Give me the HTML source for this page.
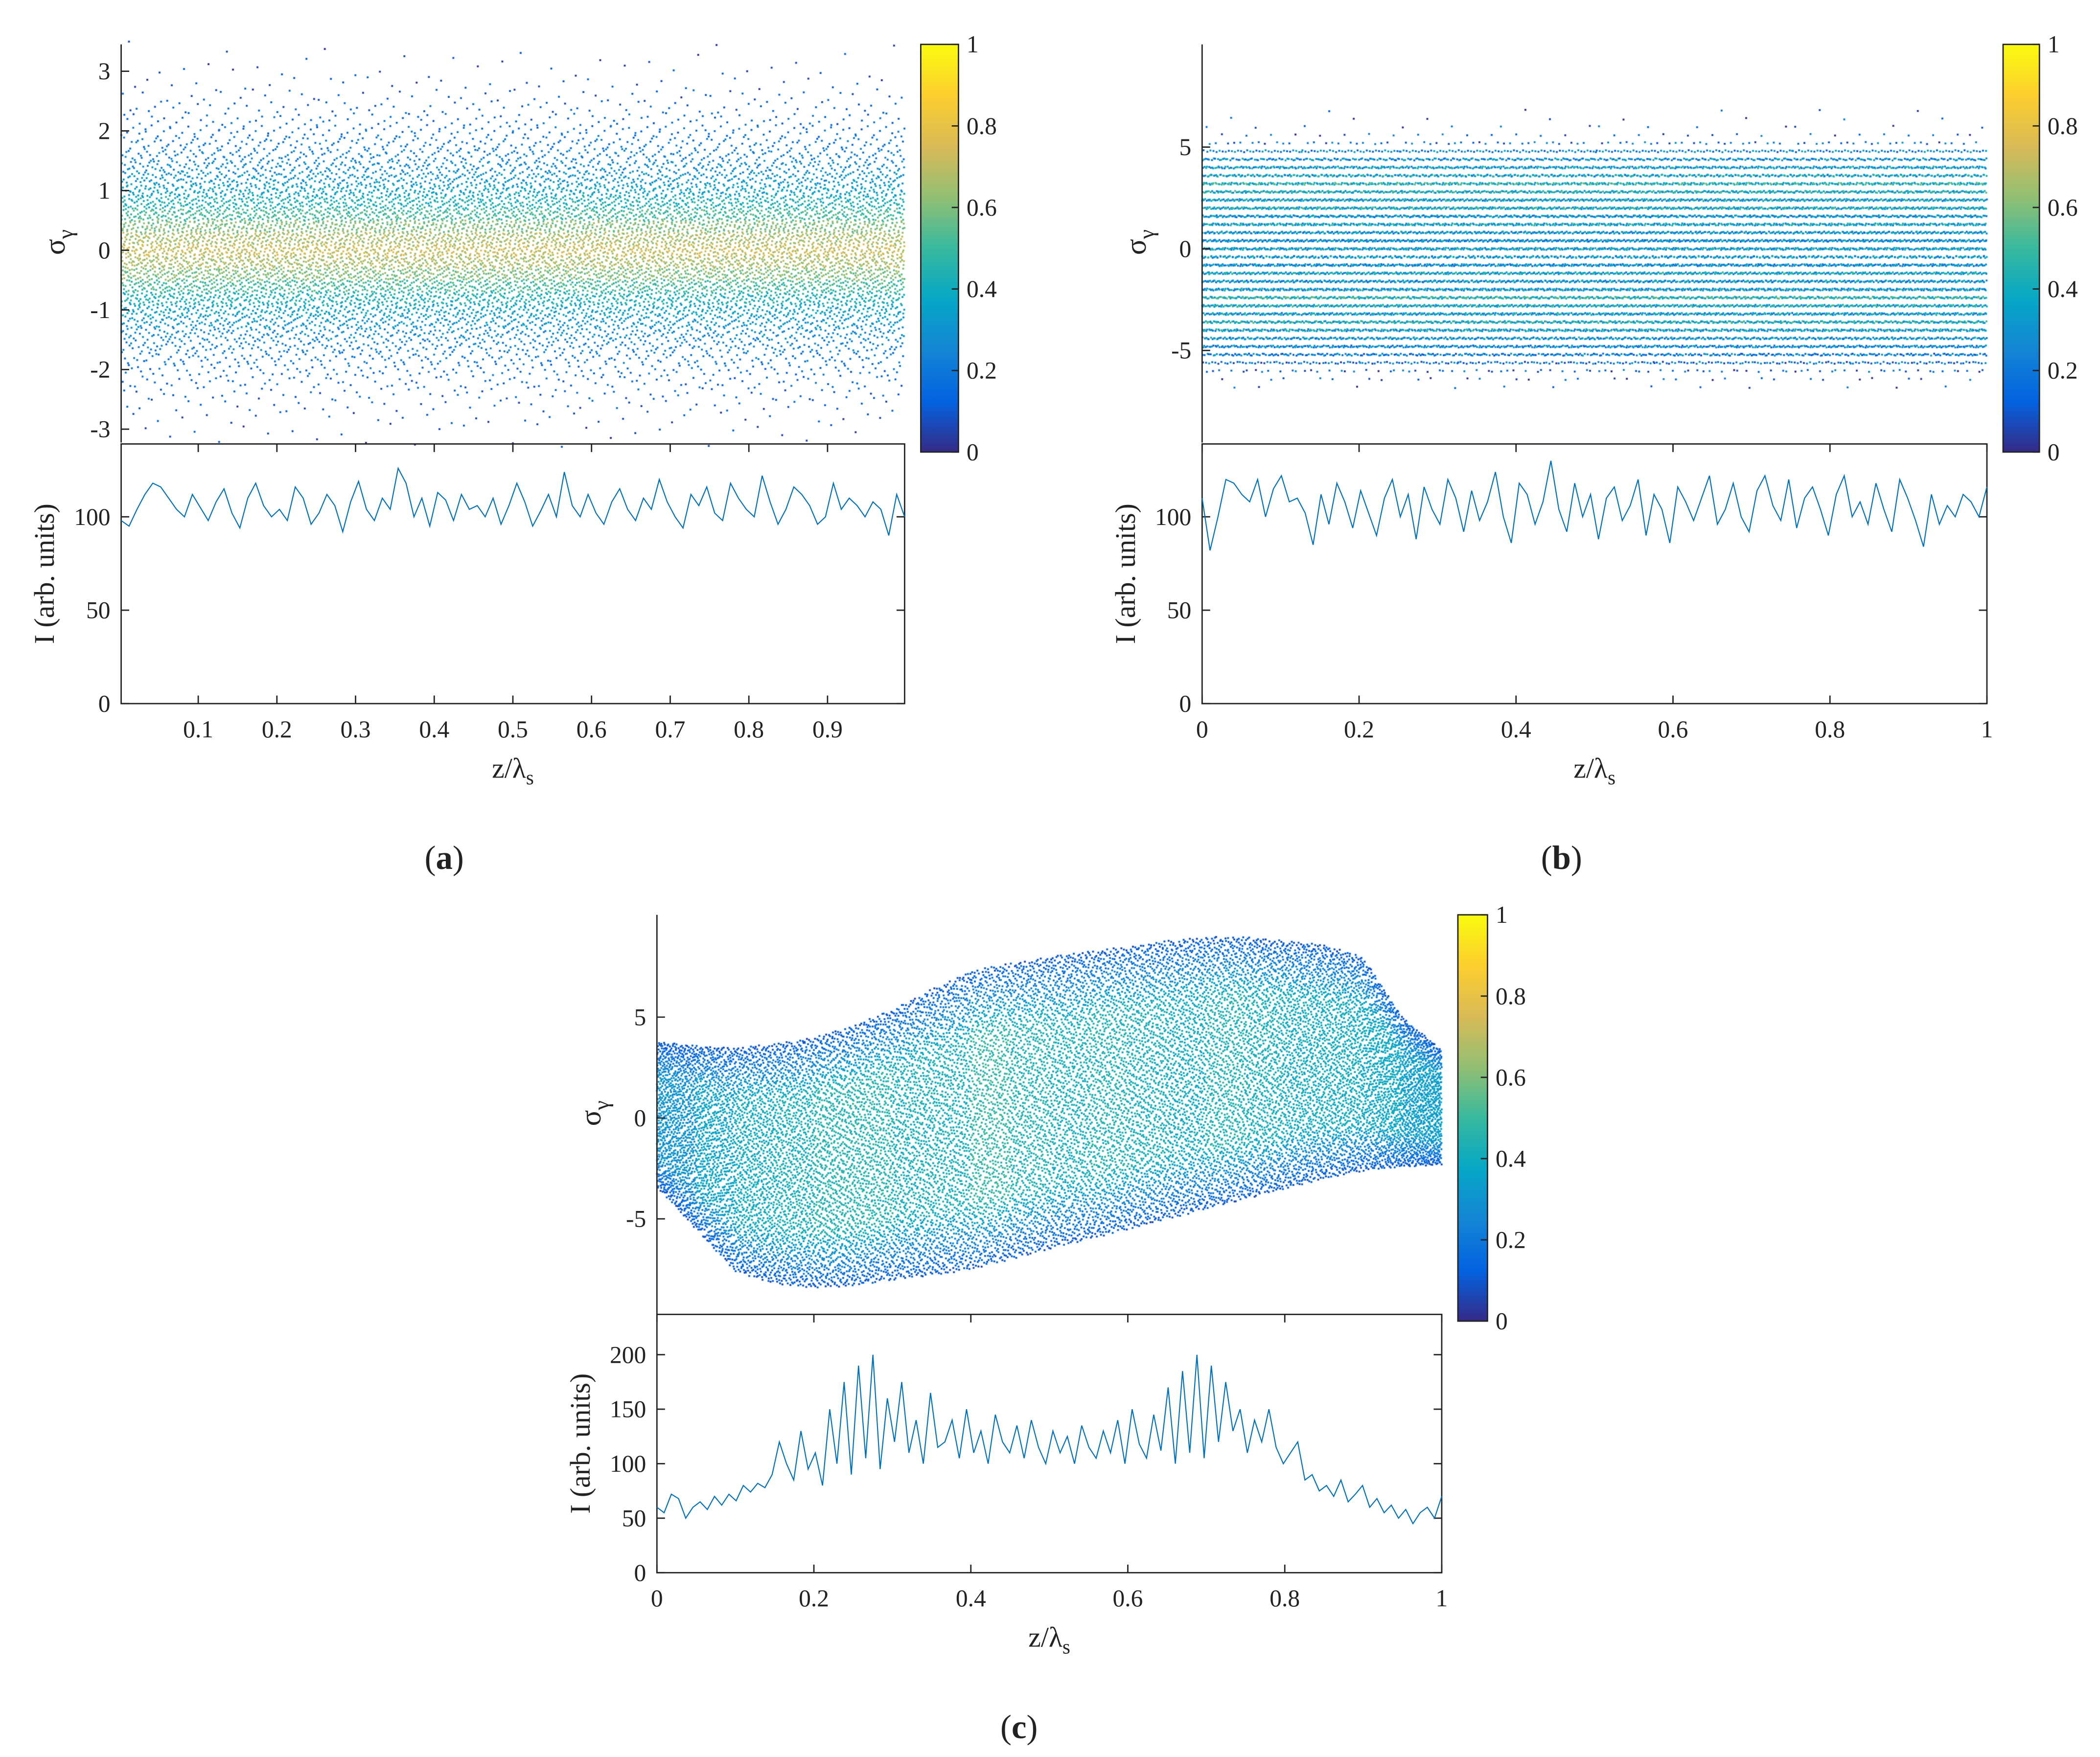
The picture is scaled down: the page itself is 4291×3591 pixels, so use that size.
<!DOCTYPE html>
<html><head><meta charset="utf-8">
<style>
html,body{margin:0;padding:0;background:#fff;}
#wrap{position:relative;width:4291px;height:3591px;overflow:hidden;}
#cv{position:absolute;left:0;top:0;}
#svg{position:absolute;left:0;top:0;}
text{font-family:"Liberation Serif",serif;fill:#222;}
</style></head>
<body>
<div id="wrap">
<canvas id="cv" width="4291" height="3591"></canvas>
<svg id="svg" width="4291" height="3591" viewBox="0 0 1560 1306" preserveAspectRatio="none">
<defs>
<linearGradient id="parula" x1="0" y1="1" x2="0" y2="0">
<stop offset="0" stop-color="#352a87"/><stop offset="0.125" stop-color="#0363e1"/>
<stop offset="0.25" stop-color="#1485d4"/><stop offset="0.375" stop-color="#06a7c6"/>
<stop offset="0.5" stop-color="#38b99e"/><stop offset="0.625" stop-color="#92bf73"/>
<stop offset="0.75" stop-color="#d9ba56"/><stop offset="0.875" stop-color="#fcce2e"/>
<stop offset="1" stop-color="#f9fb0e"/>
</linearGradient>
</defs>
<g id="g"></g>
</svg>
</div>
<script>
// ---------- DATA ----------
const aRowSigma = [-3.2,-3.0,-2.8,-2.6,-2.4,-2.2,-2.0,-1.8,-1.6,-1.4,-1.2,-1.0,-0.8,-0.6,-0.4,-0.2,0.0,0.2,0.4,0.6,0.8,1.0,1.2,1.4,1.6,1.8,2.0,2.2,2.4,2.6,2.8,3.0,3.2,3.4];
const aRowCount = [10,18,30,50,75,110,160,230,320,420,520,620,720,800,860,900,920,900,860,800,720,620,520,420,320,230,160,110,75,50,30,18,10,6];
const aRowColor = [0.06,0.07,0.09,0.11,0.13,0.15,0.17,0.2,0.23,0.27,0.31,0.36,0.43,0.51,0.6,0.67,0.72,0.67,0.6,0.51,0.43,0.36,0.31,0.27,0.23,0.2,0.17,0.15,0.13,0.11,0.09,0.07,0.06,0.05];
const bLevelSigma = [-6.8,-6.4,-6.0,-5.6,-5.2,-4.8,-4.4,-4.0,-3.6,-3.2,-2.8,-2.4,-2.0,-1.6,-1.2,-0.8,-0.4,0.0,0.4,0.8,1.2,1.6,2.0,2.4,2.8,3.2,3.6,4.0,4.4,4.8,5.2,5.6,6.0,6.4,6.8];
const bLevelCount = [12,30,90,260,420,520,580,600,620,620,630,640,640,630,620,620,630,640,640,630,620,620,630,620,610,600,580,520,420,260,90,30,14,8,5];
const bLevelColor = [0.08,0.1,0.14,0.18,0.22,0.26,0.3,0.34,0.4,0.33,0.38,0.44,0.32,0.3,0.36,0.28,0.32,0.34,0.28,0.31,0.36,0.3,0.38,0.34,0.4,0.43,0.36,0.33,0.28,0.24,0.18,0.14,0.11,0.09,0.08];
const cColX = [0,0.05,0.1,0.15,0.2,0.25,0.3,0.35,0.4,0.45,0.5,0.55,0.6,0.65,0.7,0.75,0.8,0.85,0.9,0.95,1.0];
const cColTop = [3.8,3.6,3.5,3.7,4.0,4.6,5.4,6.4,7.3,7.7,8.0,8.3,8.5,8.8,9.0,9.0,8.8,8.6,8.0,5.0,3.4];
const cColBottom = [-3.4,-5.5,-7.6,-8.2,-8.4,-8.3,-8.0,-7.8,-7.5,-7.0,-6.5,-6.0,-5.5,-5.0,-4.5,-4.0,-3.5,-3.0,-2.6,-2.4,-2.3];
const cColColor = [0.3,0.36,0.4,0.42,0.45,0.45,0.42,0.42,0.48,0.44,0.42,0.44,0.42,0.4,0.44,0.42,0.4,0.4,0.38,0.34,0.28];
const aI = [98,95,104,112,118,116,110,104,100,112,105,98,108,115,102,94,110,118,106,100,104,98,116,110,96,102,112,106,92,108,119,104,98,110,104,126,118,100,110,95,113,109,98,112,104,106,100,110,96,106,118,108,95,103,112,100,124,106,100,112,102,96,108,115,104,98,110,104,120,108,100,94,112,106,116,102,98,118,110,104,100,122,108,96,104,116,112,106,96,100,118,104,110,106,100,108,104,90,112,100];
const bI = [110,82,100,120,118,112,108,120,100,115,122,108,110,102,85,112,96,118,108,94,114,102,90,110,120,100,112,88,116,104,96,120,110,92,114,98,108,124,100,86,118,112,96,108,130,104,92,118,100,112,88,110,116,98,106,120,90,112,104,86,116,108,98,110,122,96,104,118,100,92,114,122,106,98,120,94,110,116,104,90,112,122,100,108,96,118,104,92,120,110,98,84,112,96,106,100,112,108,100,116];
const cI = [60,55,72,68,50,60,65,58,70,62,72,66,80,74,82,78,90,120,100,85,130,95,110,80,150,100,175,90,190,105,200,95,160,120,175,110,140,100,165,115,120,140,105,150,110,130,100,145,120,110,135,105,140,115,100,130,110,125,100,135,115,105,130,110,140,100,150,118,105,145,112,170,100,185,110,200,105,190,120,175,130,150,110,140,120,150,115,100,110,120,85,90,75,80,70,85,65,72,80,60,68,55,62,50,58,45,55,60,50,70];
const aXTicks = [0.1,0.2,0.3,0.4,0.5,0.6,0.7,0.8,0.9];
const bXTicks = [0,0.2,0.4,0.6,0.8,1];
const aSigTicks = [-3,-2,-1,0,1,2,3];
const bSigTicks = [-5,0,5];
const abITicks = [0,50,100];
const cITicks = [0,50,100,150,200];
const cbTicks = [0,0.2,0.4,0.6,0.8,1];

// ---------- LAYOUT ----------
const S = 4291/1560;
const panels = [
 {id:'a', x0:90,x1:672, sy0:33,sy1:327, sTop:3.45,sBot:-3.18, ly0:330,ly1:523, lTop:139, xd:[0.002,0.998], xt:aXTicks, st:aSigTicks, it:abITicks, I:aI, cb:[684,33,28,303], label:'(a)', lx:330, ly:646},
 {id:'b', x0:893,x1:1476, sy0:33,sy1:327, sTop:10.05,sBot:-9.4, ly0:330,ly1:523, lTop:139, xd:[0,1], xt:bXTicks, st:bSigTicks, it:abITicks, I:bI, cb:[1488,33,27,303], label:'(b)', lx:1160, ly:646},
 {id:'c', x0:488,x1:1071, sy0:680,sy1:975, sTop:10.07,sBot:-9.6, ly0:977,ly1:1169, lTop:237, xd:[0,1], xt:bXTicks, st:bSigTicks, it:cITicks, I:cI, cb:[1083,680,22,302], label:'(c)', lx:757, ly:1292}
];
const NS='http://www.w3.org/2000/svg';
const G=document.getElementById('g');
function el(tag,attrs,parent){const e=document.createElementNS(NS,tag);for(const k in attrs)e.setAttribute(k,attrs[k]);(parent||G).appendChild(e);return e;}
function txt(s,x,y,size,anchor,parent){const t=el('text',{x:x,y:y,'font-size':size,'text-anchor':anchor||'middle'},parent);t.textContent=s;return t;}

const stops=[[53,42,135],[3,99,225],[20,133,212],[6,167,198],[56,185,158],[146,191,115],[217,186,86],[252,206,46],[249,251,14]];
function parula(v){v=Math.max(0,Math.min(1,v))*8;const i=Math.min(7,Math.floor(v)),f=v-i;const a=stops[i],b=stops[i+1];return 'rgb('+Math.round(a[0]+(b[0]-a[0])*f)+','+Math.round(a[1]+(b[1]-a[1])*f)+','+Math.round(a[2]+(b[2]-a[2])*f)+')';}
function halton(i,b){let f=1,r=0;while(i>0){f/=b;r+=f*(i%b);i=Math.floor(i/b);}return r;}

const ctx=document.getElementById('cv').getContext('2d');
ctx.setTransform(S,0,0,S,0,0);
function dot(x,y,c){ctx.fillStyle=c;ctx.fillRect(x-0.7,y-0.7,1.4,1.4);}
let gidx=1;

panels.forEach(p=>{
  const gp=el('g',{});
  
  
  const xs=v=>p.x0+(v-p.xd[0])/(p.xd[1]-p.xd[0])*(p.x1-p.x0);
  const ys=v=>p.sy0+(p.sTop-v)/(p.sTop-p.sBot)*(p.sy1-p.sy0);
  const yi=v=>p.ly0+(p.lTop-v)/p.lTop*(p.ly1-p.ly0);

  if(p.id==='a'){
    aRowSigma.forEach((s,i)=>{const n=aRowCount[i];for(let k=0;k<n;k++){
      const g=gidx++; const u=halton(g,2), w=halton(g,3), c=halton(g,5);
      const sg=s+(w-0.5)*0.2;
      const cv=aRowColor[i]+(c-0.5)*0.14;
      dot(xs(p.xd[0]+u*(p.xd[1]-p.xd[0])),ys(sg),parula(cv));}});
  } else if(p.id==='b'){
    bLevelSigma.forEach((s,i)=>{const n=bLevelCount[i];for(let k=0;k<n;k++){
      const g=gidx++; const u=halton(g,2), w=halton(g,3), c=halton(g,5);
      const sg=s+(w-0.5)*0.1;
      const cv=bLevelColor[i]+(c-0.5)*0.3;
      dot(xs(u),ys(sg),parula(cv));}});
  } else {
    for(let j=0;j<cColX.length-1;j++){
      for(let k=0;k<1000;k++){
        const g=gidx++; const u=halton(g,2), w=halton(g,3), c=halton(g,5);
        const x=cColX[j]+u*(cColX[j+1]-cColX[j]);
        const top=cColTop[j]+u*(cColTop[j+1]-cColTop[j]);
        const bot=cColBottom[j]+u*(cColBottom[j+1]-cColBottom[j]);
        const sg=bot+w*(top-bot);
        const edge=Math.min(w,1-w)*2;
        const cv=0.1+(cColColor[j]-0.1)*Math.min(1,edge*2.2)+(c-0.5)*0.1;
        dot(xs(x),ys(sg),parula(cv));
      }
    }
  }

  el('line',{x1:p.x0,y1:p.sy0,x2:p.x0,y2:p.sy1+2,stroke:'#222','stroke-width':1},gp);
  p.st.forEach(t=>{const y=ys(t);el('line',{x1:p.x0,y1:y,x2:p.x0+6,y2:y,stroke:'#222','stroke-width':1},gp);
    txt(String(t),p.x0-8,y+6,18,'end',gp);});
  const sl=el('text',{x:0,y:0,'font-size':22,'text-anchor':'middle',transform:'translate('+(p.x0-42)+','+((p.sy0+p.sy1)/2)+') rotate(-90)'},gp);
  sl.innerHTML='σ<tspan font-size="16" dy="6">γ</tspan>';
  
  

  el('rect',{x:p.x0,y:p.ly0,width:p.x1-p.x0,height:p.ly1-p.ly0,fill:'none',stroke:'#222','stroke-width':1},gp);
  p.it.forEach(t=>{const y=yi(t);el('line',{x1:p.x0,y1:y,x2:p.x0+6,y2:y,stroke:'#222','stroke-width':1},gp);
    el('line',{x1:p.x1,y1:y,x2:p.x1-6,y2:y,stroke:'#222','stroke-width':1},gp);
    txt(String(t),p.x0-8,y+6,18,'end',gp);});
  p.xt.forEach(t=>{const x=xs(t);el('line',{x1:x,y1:p.ly1,x2:x,y2:p.ly1-6,stroke:'#222','stroke-width':1},gp);
    el('line',{x1:x,y1:p.ly0,x2:x,y2:p.ly0+6,stroke:'#222','stroke-width':1},gp);
    txt(String(t),x,p.ly1+25,18,'middle',gp);});
  const il=txt('I (arb. units)',0,0,21,'middle',gp);
  il.setAttribute('transform','translate('+(p.x0-50)+','+((p.ly0+p.ly1)/2)+') rotate(-90)');
  
  
  const xl=el('text',{x:(p.x0+p.x1)/2,y:p.ly1+55,'font-size':21,'text-anchor':'middle'},gp);
  xl.innerHTML='z/λ<tspan font-size="15" dy="5">s</tspan>';
  
  

  const pts=p.I.map((v,i)=>xs(p.xd[0]+i/(p.I.length-1)*(p.xd[1]-p.xd[0])).toFixed(2)+','+yi(v).toFixed(2)).join(' ');
  const pl=el('polyline',{points:pts,fill:'none',stroke:'#0072bd','stroke-width':0.8},gp);
  
  

  const [cx,cy,cw,ch]=p.cb;
  const cbr=el('rect',{x:cx,y:cy,width:cw,height:ch,fill:'url(#parula)',stroke:'#222','stroke-width':1},gp);
  
  
  cbTicks.forEach(t=>{const y=cy+ch-t*ch;el('line',{x1:cx+cw,y1:y,x2:cx+cw-5,y2:y,stroke:'#222','stroke-width':1},gp);
    txt(String(t),cx+cw+6,y+6,18,'start',gp);});

  const lb=el('text',{x:p.lx,y:p.ly,'font-size':25,'text-anchor':'middle'},gp);
  lb.innerHTML='(<tspan font-weight="bold">'+p.id+'</tspan>)';
  
  
});
</script>
</body></html>
